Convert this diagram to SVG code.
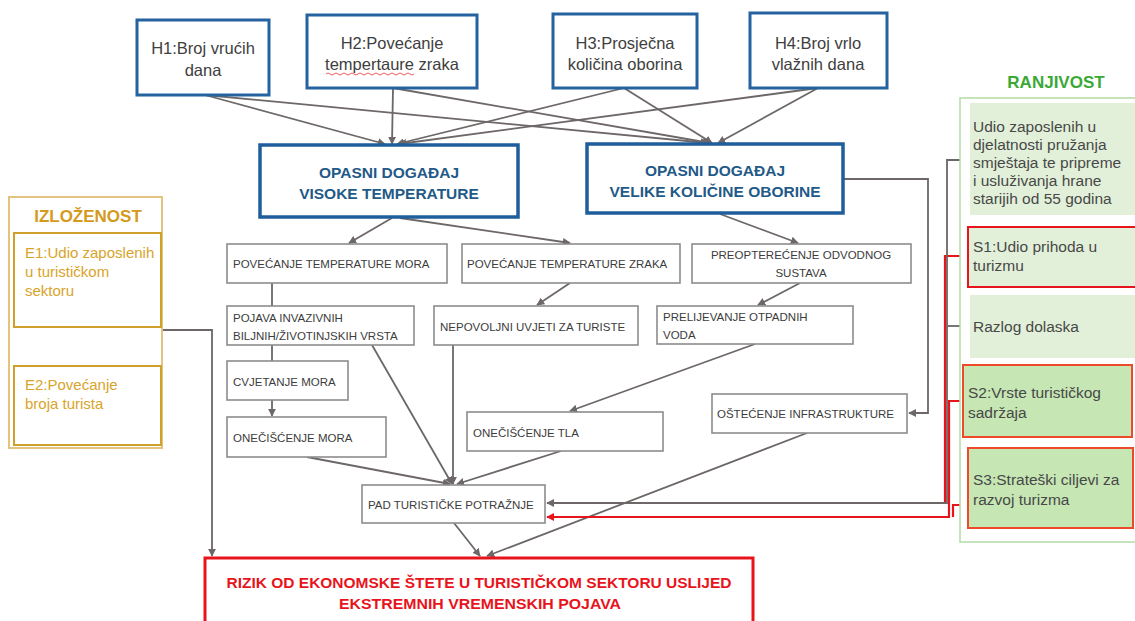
<svg xmlns="http://www.w3.org/2000/svg" width="1135" height="621" viewBox="0 0 1135 621">
<defs>
<style>
text{font-family:"Liberation Sans",Arial,sans-serif}
.hz rect{fill:#fff;stroke:#2462a0;stroke-width:3}
.hz text{font-size:16.5px;fill:#404040;text-anchor:middle}
.ev rect{fill:#fff;stroke:#1f5e9c;stroke-width:3.5}
.ev text{font-size:15.5px;font-weight:bold;fill:#1f5a88;text-anchor:middle}
.bx rect{fill:#fff;stroke:#8c8c8c;stroke-width:1.6}
.bx text{font-size:11.5px;fill:#3c3c3c}
.bx text.c{text-anchor:middle}
.cn{fill:none;stroke:#6d6767;stroke-width:1.8}
.rd{fill:none;stroke:#e8141c;stroke-width:2.2}
.ex text{font-size:15px;fill:#d8a42a}
.ex rect.e{fill:#fff;stroke:#cfa02a;stroke-width:2}
.rv text{font-size:15.5px;fill:#484848}
.ex text.t{font-size:17px;font-weight:bold;fill:#d49a1c;text-anchor:middle}
.rv text.t{font-size:17px;font-weight:bold;fill:#3aa935;text-anchor:middle}
.rz{font-size:15px;font-weight:bold;fill:#e8141c;text-anchor:middle}
</style>
<marker id="ah" viewBox="0 0 10 10" refX="9" refY="5" markerWidth="8" markerHeight="8" markerUnits="userSpaceOnUse" orient="auto"><path d="M0,0 L10,5 L0,10 z" fill="#6d6767"/></marker>
<marker id="ar" viewBox="0 0 10 10" refX="9" refY="5" markerWidth="8" markerHeight="8" markerUnits="userSpaceOnUse" orient="auto"><path d="M0,0 L10,5 L0,10 z" fill="#e8141c"/></marker>
</defs>
<rect width="1135" height="621" fill="#fff"/>

<g id="connectors">
<line class="cn" x1="205" y1="95" x2="385" y2="144" marker-end="url(#ah)"/>
<line class="cn" x1="205" y1="95" x2="708" y2="143" marker-end="url(#ah)"/>
<line class="cn" x1="393" y1="88" x2="392" y2="144" marker-end="url(#ah)"/>
<line class="cn" x1="393" y1="88" x2="710" y2="143" marker-end="url(#ah)"/>
<line class="cn" x1="624" y1="88" x2="397" y2="144" marker-end="url(#ah)"/>
<line class="cn" x1="624" y1="88" x2="712" y2="143" marker-end="url(#ah)"/>
<line class="cn" x1="818" y1="88" x2="399" y2="144" marker-end="url(#ah)"/>
<line class="cn" x1="818" y1="88" x2="718" y2="143" marker-end="url(#ah)"/>
<line class="cn" x1="392" y1="218" x2="349" y2="243" marker-end="url(#ah)"/>
<line class="cn" x1="400" y1="218" x2="570" y2="243" marker-end="url(#ah)"/>
<line class="cn" x1="720" y1="214" x2="798" y2="243" marker-end="url(#ah)"/>
<polyline class="cn" points="843,179 928,179 928,413 909,413" marker-end="url(#ah)"/>
<line class="cn" x1="570" y1="283" x2="537" y2="305" marker-end="url(#ah)"/>
<line class="cn" x1="800" y1="283" x2="758" y2="305" marker-end="url(#ah)"/>
<line class="cn" x1="272" y1="283" x2="272" y2="306"/>
<line class="cn" x1="272" y1="345" x2="272" y2="361"/>
<line class="cn" x1="272" y1="400" x2="272" y2="416" marker-end="url(#ah)"/>
<line class="cn" x1="755" y1="344" x2="570" y2="411" marker-end="url(#ah)"/>
<line class="cn" x1="307" y1="457" x2="450" y2="484" marker-end="url(#ah)"/>
<line class="cn" x1="372" y1="345" x2="452" y2="484" marker-end="url(#ah)"/>
<line class="cn" x1="453" y1="345" x2="453" y2="484" marker-end="url(#ah)"/>
<line class="cn" x1="561" y1="451" x2="457" y2="484" marker-end="url(#ah)"/>
<line class="cn" x1="454" y1="523" x2="480" y2="556" marker-end="url(#ah)"/>
<line class="cn" x1="807" y1="433" x2="487" y2="556" marker-end="url(#ah)"/>
<polyline class="cn" points="162,330 212,330 212,556" marker-end="url(#ah)"/>
<polyline class="rd" points="968,256 945,256 945,503 547,503" stroke-width="3.4"/>
<polyline class="cn" points="970,160 947,160 947,503 547,503" stroke-width="1.3" marker-end="url(#ah)"/>
<line class="cn" x1="970" y1="326" x2="947" y2="326" stroke-width="1.4"/>
<polyline class="rd" points="963,401 949,401 949,517 547,517" marker-end="url(#ar)"/>
<polyline class="rd" points="968,505 953,505 953,517"/>
</g>

<g id="H1" class="hz"><rect x="137" y="20" width="132" height="75"/><text x="203" y="54">H1:Broj vrućih</text><text x="203" y="76">dana</text></g>
<g id="H2" class="hz"><rect x="307" y="15" width="170" height="73"/><text x="392" y="49">H2:Povećanje</text><text x="392" y="70">tempertaure zraka</text>
<path d="M326,74 q2,-2 4,0 t4,0 t4,0 t4,0 t4,0 t4,0 t4,0 t4,0 t4,0 t4,0 t4,0 t4,0 t4,0 t4,0 t4,0 t4,0 t4,0 t4,0 t4,0 t4,0 t4,0 t4,0" fill="none" stroke="#e84a4a" stroke-width="0.9"/></g>
<g id="H3" class="hz"><rect x="553" y="14" width="144" height="74"/><text x="625" y="49">H3:Prosječna</text><text x="625" y="70">količina oborina</text></g>
<g id="H4" class="hz"><rect x="750" y="13" width="137" height="75"/><text x="818" y="49">H4:Broj vrlo</text><text x="818" y="70">vlažnih dana</text></g>

<g id="E_visoke" class="ev"><rect x="260" y="145" width="258" height="72"/><text x="389" y="178">OPASNI DOGAĐAJ</text><text x="389" y="199">VISOKE TEMPERATURE</text></g>
<g id="E_velike" class="ev"><rect x="587" y="144" width="256" height="69"/><text x="715" y="176">OPASNI DOGAĐAJ</text><text x="715" y="197">VELIKE KOLIČINE OBORINE</text></g>

<g id="C_temp_mora" class="bx"><rect x="227" y="244" width="220" height="39"/><text x="233" y="268">POVEĆANJE TEMPERATURE MORA</text></g>
<g id="C_temp_zraka" class="bx"><rect x="462" y="244" width="218" height="39"/><text x="467" y="268">POVEĆANJE TEMPERATURE ZRAKA</text></g>
<g id="C_preopt" class="bx"><rect x="692" y="244" width="219" height="39"/><text class="c" x="801" y="259">PREOPTEREĆENJE ODVODNOG</text><text class="c" x="801" y="277">SUSTAVA</text></g>
<g id="C_pojava" class="bx"><rect x="227" y="306" width="187" height="39"/><text x="233" y="322">POJAVA INVAZIVNIH</text><text x="233" y="340">BILJNIH/ŽIVOTINJSKIH VRSTA</text></g>
<g id="C_nepovoljni" class="bx"><rect x="434" y="306" width="204" height="39"/><text x="440" y="331">NEPOVOLJNI UVJETI ZA TURISTE</text></g>
<g id="C_prelijevanje" class="bx"><rect x="657" y="306" width="196" height="38"/><text x="663" y="321">PRELIJEVANJE OTPADNIH</text><text x="663" y="339">VODA</text></g>
<g id="C_cvjetanje" class="bx"><rect x="227" y="361" width="121" height="39"/><text x="233" y="386">CVJETANJE MORA</text></g>
<g id="C_oneciscenje_mora" class="bx"><rect x="227" y="417" width="159" height="40"/><text x="233" y="442">ONEČIŠĆENJE MORA</text></g>
<g id="C_oneciscenje_tla" class="bx"><rect x="467" y="412" width="196" height="39"/><text x="473" y="437">ONEČIŠĆENJE TLA</text></g>
<g id="C_ostecenje" class="bx"><rect x="712" y="394" width="195" height="39"/><text x="717" y="418">OŠTEĆENJE INFRASTRUKTURE</text></g>
<g id="C_pad" class="bx"><rect x="362" y="485" width="183" height="38"/><text x="368" y="509">PAD TURISTIČKE POTRAŽNJE</text></g>

<g id="RIZIK"><rect x="205" y="558" width="548" height="80" fill="#fff" stroke="#e8141c" stroke-width="3"/>
<text class="rz" x="479" y="588" textLength="505" lengthAdjust="spacingAndGlyphs">RIZIK OD EKONOMSKE ŠTETE U TURISTIČKOM SEKTORU USLIJED</text>
<text class="rz" x="480" y="609" textLength="282" lengthAdjust="spacingAndGlyphs">EKSTREMNIH VREMENSKIH POJAVA</text></g>

<g id="IZLOZENOST" class="ex">
<rect x="9" y="197" width="153" height="251" fill="#fff" stroke="#e2c47e" stroke-width="2"/>
<text class="t" x="88" y="222">IZLOŽENOST</text>
<g id="E1"><rect class="e" x="14" y="233" width="147" height="94"/><text x="25" y="258">E1:Udio zaposlenih</text><text x="25" y="277">u turističkom</text><text x="25" y="296">sektoru</text></g>
<g id="E2"><rect class="e" x="14" y="366" width="147" height="79"/><text x="25" y="390">E2:Povećanje</text><text x="25" y="409">broja turista</text></g>
</g>

<g id="RANJIVOST" class="rv">
<text class="t" x="1056" y="88">RANJIVOST</text>
<rect x="960" y="98" width="185" height="444" fill="#fff" stroke="#b3dba6" stroke-width="1.5"/>
<g id="V_udio"><rect x="970" y="103" width="170" height="112" fill="#e2f0d9"/><text x="973" y="132">Udio zaposlenih u</text><text x="973" y="150">djelatnosti pružanja</text><text x="973" y="168">smještaja te pripreme</text><text x="973" y="186">i usluživanja hrane</text><text x="973" y="204">starijih od 55 godina</text></g>
<g id="S1"><rect x="968" y="227" width="172" height="60" fill="#e2f0d9" stroke="#e8141c" stroke-width="2"/><text x="973" y="252">S1:Udio prihoda u</text><text x="973" y="271">turizmu</text></g>
<g id="V_razlog"><rect x="970" y="295" width="170" height="63" fill="#e2f0d9"/><text x="973" y="332">Razlog dolaska</text></g>
<g id="S2"><rect x="963" y="365" width="169" height="72" fill="#c6e6b4" stroke="#ec4a2a" stroke-width="2"/><text x="968" y="398">S2:Vrste turističkog</text><text x="968" y="418">sadržaja</text></g>
<g id="S3"><rect x="968" y="448" width="165" height="80" fill="#c6e6b4" stroke="#ec4a2a" stroke-width="2"/><text x="973" y="485">S3:Strateški ciljevi za</text><text x="973" y="505">razvoj turizma</text></g>
</g>
</svg>
